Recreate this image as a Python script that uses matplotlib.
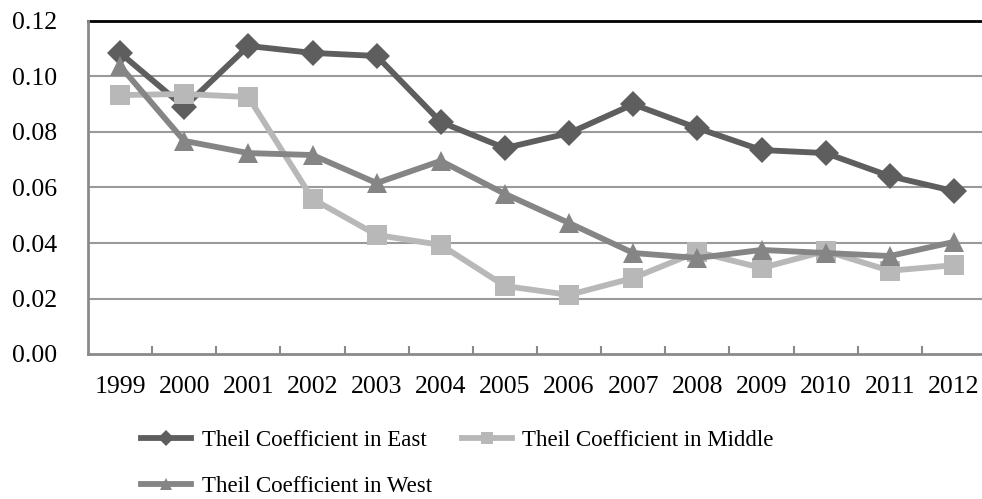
import matplotlib
matplotlib.use("Agg")
import matplotlib.pyplot as plt
import numpy as np

years = ["1999", "2000", "2001", "2002", "2003", "2004", "2005",
         "2006", "2007", "2008", "2009", "2010", "2011", "2012"]
east = [0.1085, 0.0890, 0.1110, 0.1085, 0.1074, 0.0836, 0.0742,
        0.0796, 0.0900, 0.0814, 0.0735, 0.0724, 0.0641, 0.0587]
middle = [0.0933, 0.0937, 0.0926, 0.0559, 0.0429, 0.0393, 0.0245,
          0.0213, 0.0274, 0.0368, 0.0310, 0.0371, 0.0300, 0.0320]
west = [0.1038, 0.0768, 0.0724, 0.0717, 0.0616, 0.0696, 0.0577,
        0.0472, 0.0364, 0.0346, 0.0375, 0.0364, 0.0353, 0.0404]
labels = ["Theil Coefficient in East", "Theil Coefficient in Middle",
          "Theil Coefficient in West"]
yticks = [0.00, 0.02, 0.04, 0.06, 0.08, 0.10, 0.12]

plt.rcParams['font.family'] = ['Liberation Serif', 'DejaVu Serif']

fig = plt.figure(figsize=(9.82, 4.99), dpi=100)
ax = fig.add_axes([88/982, 145/499, 898/982, 333/499])

x = np.arange(len(years))
l1, = ax.plot(x, east, color='#5e5e5e', lw=4.2, marker='D', ms=13.5,
              mew=0, zorder=3, solid_joinstyle='round')
l2, = ax.plot(x, middle, color='#b8b8b8', lw=4.2, marker='s', ms=14.5,
              mew=0, zorder=4, solid_joinstyle='round')
l3, = ax.plot(x, west, color='#858585', lw=4.2, marker='^', ms=14.5,
              mew=0, zorder=5, solid_joinstyle='round')

ax.set_xlim(-0.5, len(years) - 0.5)
ax.set_ylim(0, 0.12)
ax.set_yticks(yticks)
ax.set_yticklabels([f"{v:.2f}" for v in yticks], fontsize=18.5)
ax.set_xticks(x)
ax.set_xticklabels(years, fontsize=18.5)
ax.set_xticks(np.arange(0.5, len(years) - 1, 1.0), minor=True)
ax.tick_params(axis='x', which='major', length=0, pad=16)
ax.tick_params(axis='x', which='minor', length=6, width=1.5,
               direction='in', color='#8a8a8a')
ax.tick_params(axis='y', length=0, pad=22)

for v in yticks[1:-1]:
    ax.axhline(v, color='#9a9a9a', lw=1.5, zorder=1)
ax.axhline(0.12, color='black', lw=2, zorder=1, clip_on=False)

for s in ['top', 'right']:
    ax.spines[s].set_visible(False)
for s in ['left', 'bottom']:
    ax.spines[s].set_color('#8a8a8a')
    ax.spines[s].set_linewidth(2)

# order so that rows read East, Middle / West
fig.legend([l1, l3, l2], [labels[0], labels[2], labels[1]], loc='upper left',
           bbox_to_anchor=(141/982, 1 - 430/499), ncol=2, frameon=False,
           fontsize=16.5, handlelength=2.2, handletextpad=0.45,
           columnspacing=1.3, labelspacing=1.08, borderpad=0,
           borderaxespad=0, markerscale=0.6)

fig.savefig("out.png", dpi=100)
